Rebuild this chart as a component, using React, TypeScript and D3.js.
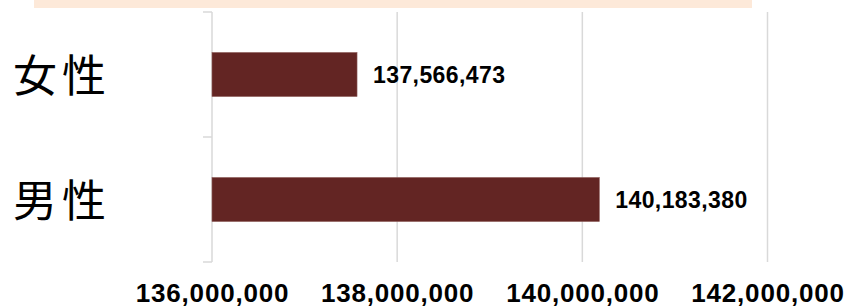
import React, { useRef, useEffect } from "react"
import * as d3 from "d3"

const categories = ["女性", "男性"]
const population = [137566473, 140183380]
const tickValues = [136000000, 138000000, 140000000, 142000000]

const W = 848
const H = 308

const App = () => {
  const element = useRef<SVGSVGElement | null>(null)

  useEffect(() => {
    const svg = d3.select(element.current)
    svg.selectAll("*").remove()

    const margin = { top: 12, right: 80, bottom: 46, left: 212 }
    const fmt = d3.format(",")

    const x = d3.scaleLinear()
      .domain([136000000, 142000000])
      .range([margin.left, 767.5])

    const y = d3.scaleBand()
      .domain(categories)
      .range([margin.top, H - margin.bottom])
      .padding(0)

    const barH = y.bandwidth() * 0.352

    // peach strip at the top (remains of the title box)
    svg.append("rect")
      .attr("x", 34).attr("y", 0)
      .attr("width", 718).attr("height", 8)
      .attr("fill", "#fde9d9")

    // vertical grid
    svg.append("g")
      .selectAll("line")
      .data(tickValues.slice(1))
      .enter()
        .append("line")
        .attr("x1", d => x(d)).attr("x2", d => x(d))
        .attr("y1", margin.top).attr("y2", H - margin.bottom)
        .attr("stroke", "#d9d9d9")
        .attr("stroke-width", 1.5)

    // category axis
    const yAxis = svg.append("g")
      .attr("transform", "translate(" + margin.left + ",0)")
      .call(d3.axisLeft(y).tickSize(0).tickFormat(() => ""))
    yAxis.select(".domain").remove()

    yAxis.append("line")
      .attr("x1", 0).attr("x2", 0)
      .attr("y1", margin.top).attr("y2", H - margin.bottom)
      .attr("stroke", "#d9d9d9").attr("stroke-width", 1.5)

    const bounds = [...categories.map(c => y(c) as number), H - margin.bottom]
    yAxis.selectAll(".sep")
      .data(bounds)
      .enter()
        .append("line")
        .attr("class", "sep")
        .attr("x1", -9).attr("x2", 0)
        .attr("y1", d => d).attr("y2", d => d)
        .attr("stroke", "#d9d9d9").attr("stroke-width", 1.5)

    // category labels
    svg.append("g")
      .selectAll("text")
      .data(categories)
      .enter()
        .append("text")
        .attr("x", 13)
        .attr("y", d => (y(d) as number) + y.bandwidth() / 2 - 2)
        .attr("dominant-baseline", "central")
        .attr("font-family", "'Noto Sans CJK JP', 'Noto Sans', sans-serif")
        .attr("font-size", 44)
        .attr("letter-spacing", 5)
        .attr("fill", "#000")
        .text(d => d)

    // bars
    svg.append("g")
      .selectAll("rect")
      .data(population)
      .enter()
        .append("rect")
        .attr("x", x(136000000))
        .attr("y", (d, i) => (y(categories[i]) as number) + (y.bandwidth() - barH) / 2)
        .attr("width", d => x(d) - x(136000000))
        .attr("height", barH)
        .attr("fill", "#632523")
        .attr("stroke", "#8c5a58")
        .attr("stroke-width", 0.6)

    // value labels
    svg.append("g")
      .selectAll("text")
      .data(population)
      .enter()
        .append("text")
        .attr("x", d => x(d) + 16)
        .attr("y", (d, i) => (y(categories[i]) as number) + y.bandwidth() / 2 + 8.5)
        .attr("font-family", "'Liberation Sans', Arial, sans-serif")
        .attr("font-weight", "bold")
        .attr("font-size", 23)
        .attr("letter-spacing", 0.4)
        .attr("fill", "#000")
        .text(d => fmt(d))

    // x axis labels
    const xAxis = svg.append("g")
      .attr("transform", "translate(0," + (H - margin.bottom) + ")")
      .call(d3.axisBottom(x).tickValues(tickValues).tickSize(0).tickPadding(0).tickFormat(d => fmt(d as number)))
    xAxis.select(".domain").remove()
    xAxis.selectAll("text")
      .attr("y", 40)
      .attr("dy", 0)
      .attr("font-family", "'Liberation Sans', Arial, sans-serif")
      .attr("font-weight", "bold")
      .attr("font-size", 26)
      .attr("letter-spacing", 0.8)
      .attr("fill", "#000")
  }, [])

  return (
    <svg
      ref={element}
      width={W}
      height={H}
      style={{ position: "fixed", top: 0, left: 0, background: "#fff" }}
    />
  )
}

export default App
